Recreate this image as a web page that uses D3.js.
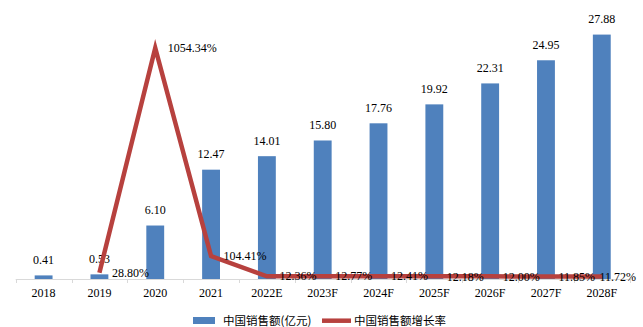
<!DOCTYPE html>
<html>
<head>
<meta charset="utf-8">
<script src="https://cdn.jsdelivr.net/npm/d3@7"></script>
<style>
  html, body { margin: 0; padding: 0; background: #fff; }
  svg { display: block; }
  .num { font-family: "Liberation Serif", "Times New Roman", serif; font-size: 12px; fill: #000; }
  .cjk { font-family: "Noto Sans CJK SC", "Noto Sans", sans-serif; font-size: 11.5px; fill: #000; }
</style>
</head>
<body>
<svg id="chart" width="643" height="327"></svg>
<script>
const categories = ["2018","2019","2020","2021","2022E","2023F","2024F","2025F","2026F","2027F","2028F"];
const sales = [0.41,0.53,6.10,12.47,14.01,15.80,17.76,19.92,22.31,24.95,27.88];
const growthCategories = ["2019","2020","2021","2022E","2023F","2024F","2025F","2026F","2027F","2028F"];
const growth = [28.80,1054.34,104.41,12.36,12.77,12.41,12.18,12.00,11.85,11.72];
const seriesNames = ["中国销售额(亿元)","中国销售额增长率"];

(function () {
const svg = d3.select("#chart");
const pLeft = 15.7, pRight = 629.7, pTop = 16, pBottom = 279;
const barColor = "#4F81BD", lineColor = "#B7413E";

const x = d3.scaleBand().domain(categories).range([pLeft, pRight]).paddingInner(0.68).paddingOuter(0.34);
const y = d3.scaleLinear().domain([0, 30]).range([pBottom, pTop]);
const y2 = d3.scaleLinear().domain([0, 1200]).range([pBottom, pTop]);
const cx = c => x(c) + x.bandwidth() / 2;

// bars
svg.append("g").selectAll("rect").data(sales).join("rect")
  .attr("x", (d, i) => x(categories[i]))
  .attr("y", d => y(d))
  .attr("width", x.bandwidth())
  .attr("height", d => pBottom - y(d))
  .attr("fill", barColor);

// x axis
const step = (pRight - pLeft) / categories.length;
const axisG = svg.append("g");
axisG.append("line").attr("x1", pLeft).attr("x2", pRight).attr("y1", pBottom + 0.5).attr("y2", pBottom + 0.5)
  .attr("stroke", "#d9d9d9").attr("stroke-width", 1);
const tickPos = d3.range(categories.length + 1).map(i => Math.round(pLeft + i * step) + 0.5);
axisG.selectAll("line.tick").data(tickPos).join("line").attr("class", "tick")
  .attr("x1", d => d).attr("x2", d => d).attr("y1", pBottom).attr("y2", pBottom + 4)
  .attr("stroke", "#d9d9d9");
axisG.selectAll("text").data(categories).join("text")
  .attr("class", "num")
  .attr("x", d => cx(d)).attr("y", 297)
  .attr("text-anchor", "middle")
  .text(d => d);

// bar labels
svg.append("g").selectAll("text").data(sales).join("text")
  .attr("class", "num")
  .attr("x", (d, i) => cx(categories[i]))
  .attr("y", d => y(d) - 11.5)
  .attr("text-anchor", "middle")
  .text(d => d.toFixed(2));

// growth line
const line = d3.line().x((d, i) => cx(growthCategories[i])).y(d => y2(d));
svg.append("path").datum(growth)
  .attr("d", line)
  .attr("fill", "none")
  .attr("stroke", lineColor)
  .attr("stroke-width", 4.5)
  .attr("stroke-linejoin", "miter")
  .attr("stroke-miterlimit", 10);

// growth labels
svg.append("g").selectAll("text").data(growth).join("text")
  .attr("class", "num")
  .attr("x", (d, i) => cx(growthCategories[i]) + 12.5)
  .attr("y", d => y2(d))
  .attr("dy", "0.35em")
  .text(d => d.toFixed(2) + "%")
  .each(function () {
    const t = d3.select(this);
    const w = this.getComputedTextLength();
    const xx = +t.attr("x");
    if (xx + w > 636) t.attr("x", 636 - w);
  });

// legend
const lg = svg.append("g");
lg.append("rect").attr("x", 193).attr("y", 317).attr("width", 22).attr("height", 7).attr("fill", barColor);
lg.append("text").attr("class", "cjk").attr("x", 223).attr("y", 320.5).attr("dy", "0.35em").text(seriesNames[0]);
lg.append("line").attr("x1", 322).attr("x2", 351).attr("y1", 320.7).attr("y2", 320.7)
  .attr("stroke", lineColor).attr("stroke-width", 4.5);
lg.append("text").attr("class", "cjk").attr("x", 354).attr("y", 320.5).attr("dy", "0.35em").text(seriesNames[1]);
})();
</script>
</body>
</html>
